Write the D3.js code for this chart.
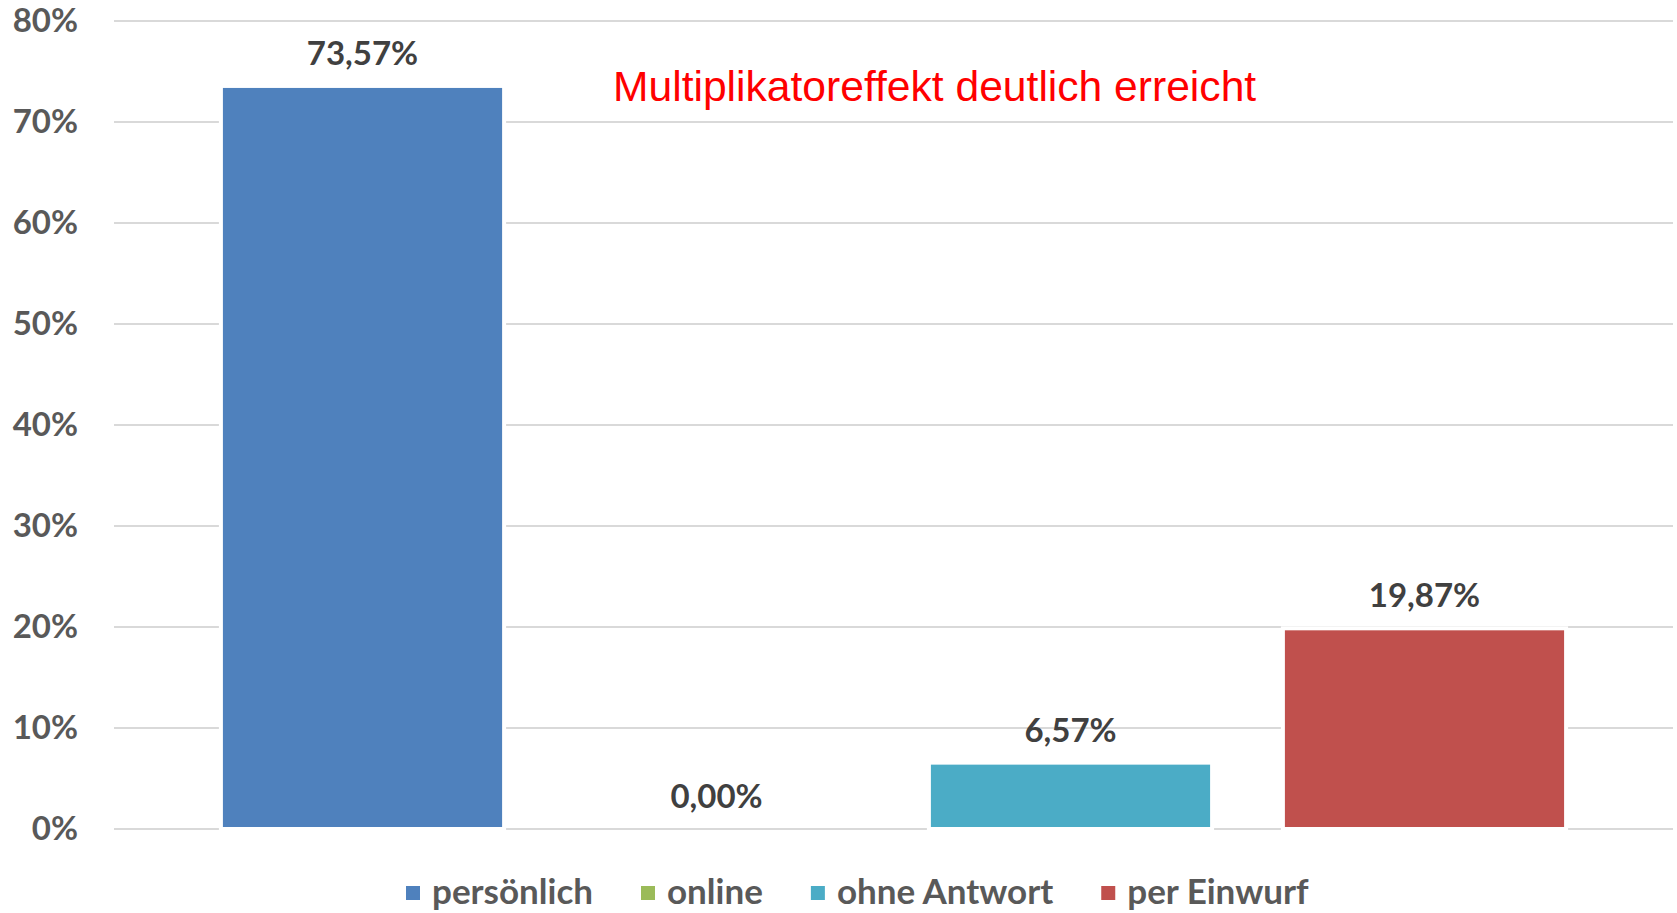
<!DOCTYPE html>
<html>
<head>
<meta charset="utf-8">
<script src="https://cdn.jsdelivr.net/npm/d3@7"></script>
<style>
  body { margin: 0; background: #fff; }
  svg { display: block; }
</style>
</head>
<body>
<div id="chart"></div>
<script>
// data
var series = ["persönlich", "online", "ohne Antwort", "per Einwurf"];
var values = [0.7357, 0.0, 0.0657, 0.1987];
var labels = ["73,57%", "0,00%", "6,57%", "19,87%"];
var colors = ["#4f81bd", "#9bbb59", "#4bacc6", "#c0504d"];
var yTicks = [0, 0.1, 0.2, 0.3, 0.4, 0.5, 0.6, 0.7, 0.8];
var title = "Multiplikatoreffekt deutlich erreicht";

var svgWidth = 1677;
var svgHeight = 913;

var margin = { top: 21, right: 4, bottom: 84, left: 114 };
var width = svgWidth - margin.left - margin.right;
var height = svgHeight - margin.top - margin.bottom;

var font = "Lato, 'Open Sans', sans-serif";

var svg = d3.select("#chart")
  .append("svg")
  .attr("width", svgWidth)
  .attr("height", svgHeight);

var chartGroup = svg.append("g")
  .attr("transform", `translate(${margin.left}, ${margin.top})`);

var xScale = d3.scaleBand()
  .domain(series)
  .range([0, width])
  .paddingInner(0.2)
  .paddingOuter(0.302);

var yScale = d3.scaleLinear()
  .domain([0, 0.8])
  .range([height, 0]);

// gridlines
chartGroup.append("g")
  .selectAll("line")
  .data(yTicks)
  .enter()
  .append("line")
  .attr("x1", 0)
  .attr("x2", width)
  .attr("y1", d => yScale(d))
  .attr("y2", d => yScale(d))
  .attr("stroke", "#d9d9d9")
  .attr("stroke-width", 2);

// y axis labels
var leftAxis = d3.axisLeft(yScale)
  .tickValues(yTicks)
  .tickFormat(d => Math.round(d * 100) + "%")
  .tickSize(0)
  .tickPadding(36);

var yAxis = chartGroup.append("g").call(leftAxis);
yAxis.select(".domain").remove();
yAxis.selectAll("text")
  .style("font-family", font)
  .style("font-weight", "bold")
  .style("font-size", "33px")
  .attr("fill", "#595959");

// bars
chartGroup.selectAll("rect.bar")
  .data(series)
  .enter()
  .append("rect")
  .classed("bar", true)
  .attr("x", d => xScale(d))
  .attr("width", xScale.bandwidth())
  .attr("y", (d, i) => yScale(values[i]))
  .attr("height", (d, i) => yScale(0) - yScale(values[i]))
  .attr("fill", (d, i) => colors[i])
  .attr("stroke", (d, i) => values[i] > 0 ? "#fff" : "none")
  .attr("stroke-width", 4);

// value labels
chartGroup.selectAll("text.value")
  .data(series)
  .enter()
  .append("text")
  .classed("value", true)
  .attr("x", d => xScale(d) + xScale.bandwidth() / 2)
  .attr("y", (d, i) => yScale(values[i]) - 21)
  .attr("text-anchor", "middle")
  .style("font-family", font)
  .style("font-weight", "bold")
  .style("font-size", "33px")
  .attr("fill", "#404040")
  .text((d, i) => labels[i]);

// annotation
svg.append("text")
  .attr("x", 613)
  .attr("y", 101)
  .style("font-family", "'Liberation Sans', Arial, sans-serif")
  .style("font-size", "42.6px")
  .attr("fill", "#ff0000")
  .text(title);

// legend
var legend = svg.append("g")
  .attr("transform", `translate(0, 891)`);

var items = legend.selectAll("g")
  .data(series)
  .enter()
  .append("g");

items.append("rect")
  .attr("y", -5)
  .attr("width", 14)
  .attr("height", 14)
  .attr("fill", (d, i) => colors[i]);

items.append("text")
  .attr("x", 26)
  .attr("dy", "0.36em")
  .style("font-family", font)
  .style("font-weight", "bold")
  .style("font-size", "35px")
  .attr("fill", "#595959")
  .text(d => d);

var xPos = 406;
items.each(function() {
  var w = this.getBBox().width;
  d3.select(this).attr("transform", `translate(${xPos}, 0)`);
  xPos += w + 48;
});
</script>
</body>
</html>
